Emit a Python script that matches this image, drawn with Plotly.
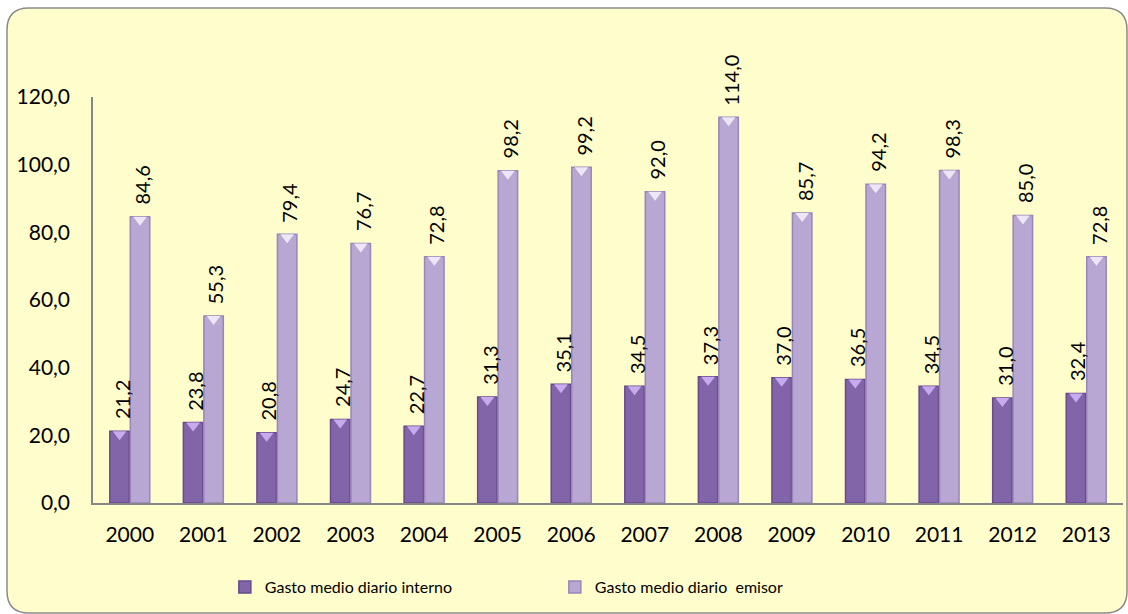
import plotly.graph_objects as go

# Daily spending per year: domestic (interno) vs outbound (emisor)
years = ["2000", "2001", "2002", "2003", "2004", "2005", "2006",
         "2007", "2008", "2009", "2010", "2011", "2012", "2013"]
gasto_interno = [21.2, 23.8, 20.8, 24.7, 22.7, 31.3, 35.1,
                 34.5, 37.3, 37.0, 36.5, 34.5, 31.0, 32.4]
gasto_emisor = [84.6, 55.3, 79.4, 76.7, 72.8, 98.2, 99.2,
                92.0, 114.0, 85.7, 94.2, 98.3, 85.0, 72.8]
y_ticks = [0, 20, 40, 60, 80, 100, 120]

W, H = 1128, 614
ML, MR, MT, MB = 93, 5, 97, 111
FONT = "Lato, 'Open Sans', sans-serif"
BARGAP = 0.443
Y_MAX = 120

DARK = "#8264A9"
DARK_EDGE = "#67498E"
DARK_CAP = "#C7ABEE"
LIGHT = "#B8A7D2"
LIGHT_EDGE = "#9985B8"
LIGHT_CAP = "#EDE6F7"

fig = go.Figure()
fig.add_trace(go.Bar(
    x=years, y=gasto_interno, name="Gasto medio diario interno",
    marker=dict(color=DARK, line=dict(color=DARK_EDGE, width=1.5)),
))
fig.add_trace(go.Bar(
    x=years, y=gasto_emisor, name="Gasto medio diario\u00a0 emisor",
    marker=dict(color=LIGHT, line=dict(color=LIGHT_EDGE, width=1.5)),
))

# bevelled top of each bar: a small down-pointing highlight on an
# overlaid numeric axis that shares the category positions
pw, ph = W - ML - MR, H - MT - MB
half_slot = (1 - BARGAP) / 4
cap_size = 12
cap_drop = (cap_size / 4) * Y_MAX / ph  # keeps the cap's flat edge on the bar top
for series, sign, cap in ((gasto_interno, -1, DARK_CAP), (gasto_emisor, 1, LIGHT_CAP)):
    fig.add_trace(go.Scatter(
        x=[i + sign * half_slot for i in range(len(series))],
        y=[v - cap_drop for v in series],
        mode="markers", xaxis="x2", showlegend=False, hoverinfo="skip",
        marker=dict(symbol="triangle-down", size=cap_size, color=cap,
                    line=dict(width=0)),
    ))

# rotated value labels above each bar (x given as category index)
annotations = []
for series, shift in ((gasto_interno, -10.5), (gasto_emisor, 10.5)):
    for i, v in enumerate(series):
        annotations.append(dict(
            x=i, y=v, xref="x", yref="y",
            text=f"{v:.1f}".replace(".", ","),
            textangle=-90, showarrow=False,
            xanchor="center", yanchor="bottom",
            xshift=shift + 2, yshift=10,
            font=dict(family=FONT, size=20, color="#000000"),
        ))


# rounded chart-area frame, expressed in paper units of the plot area
def px(xp):
    return (xp - ML) / pw


def py(yp):
    return (H - MB - yp) / ph


x0, x1, y0, y1, r = 7, 1127, 8, 613, 22
path = (
    f"M {px(x0 + r)} {py(y0)} L {px(x1 - r)} {py(y0)} "
    f"Q {px(x1)} {py(y0)} {px(x1)} {py(y0 + r)} "
    f"L {px(x1)} {py(y1 - r)} "
    f"Q {px(x1)} {py(y1)} {px(x1 - r)} {py(y1)} "
    f"L {px(x0 + r)} {py(y1)} "
    f"Q {px(x0)} {py(y1)} {px(x0)} {py(y1 - r)} "
    f"L {px(x0)} {py(y0 + r)} "
    f"Q {px(x0)} {py(y0)} {px(x0 + r)} {py(y0)} Z"
)

fig.update_layout(
    width=W, height=H,
    margin=dict(l=ML, r=MR, t=MT, b=MB),
    paper_bgcolor="#FFFFFF",
    plot_bgcolor="rgba(0,0,0,0)",
    separators=",.",
    barmode="group", bargap=BARGAP, bargroupgap=0.05,
    font=dict(family=FONT, size=21, color="#000000"),
    shapes=[dict(type="path", path=path, xref="paper", yref="paper",
                 fillcolor="#FFFDCC", line=dict(color="#8A8A8A", width=1.5),
                 layer="below")],
    annotations=annotations,
    showlegend=True,
    legend=dict(orientation="h", x=0.128, y=-0.207, xanchor="left", yanchor="middle",
                font=dict(family=FONT, size=16), entrywidth=285,
                bgcolor="rgba(0,0,0,0)", itemwidth=30),
    xaxis=dict(type="category", range=[-0.5, len(years) - 0.5], showline=True,
               linecolor="#868686", linewidth=1.5, ticks="", showgrid=False,
               ticklabelstandoff=12),
    xaxis2=dict(overlaying="x", range=[-0.5, len(years) - 0.5], visible=False),
    yaxis=dict(range=[0, Y_MAX], tickvals=y_ticks, tickformat=".1f",
               showline=True, linecolor="#868686", linewidth=1.5, ticks="",
               showgrid=False, zeroline=False, ticklabelstandoff=17),
)

fig.write_html("out.html")
